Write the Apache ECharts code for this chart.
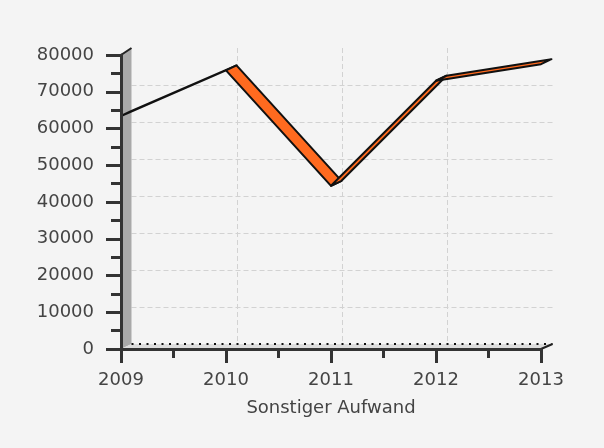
<!DOCTYPE html>
<html>
<head>
<meta charset="utf-8">
<script src="https://cdn.jsdelivr.net/npm/echarts@6/dist/echarts.min.js"></script>
<style>
html, body { margin: 0; padding: 0; background: #f4f4f4; }
#chart { width: 604px; height: 448px; }
</style>
</head>
<body>
<div id="chart"></div>
<script>
const years = [2009, 2010, 2011, 2012, 2013];
const values = [63400, 75800, 44400, 73000, 77500];
const yMin = 0, yMax = 80000, yStep = 10000;
const axisTitle = 'Sonstiger Aufwand';

// front and back planes of the fake 3d box
const front = { left: 121, top: 55, width: 420, height: 294 };
const back = { left: 131.5, top: 48, width: 421, height: 296 };

const textStyle = { color: '#444', fontSize: 18, fontFamily: 'DejaVu Sans' };
const axisColor = '#333';

const chart = echarts.init(document.getElementById('chart'));

const fb = front.top + front.height;
const bb = back.top + back.height;
const fr = front.left + front.width;
const br = back.left + back.width;

// ribbon depth = offset of the floor's back edge
const depth = [back.left - front.left, bb - fb];
const toBack = function (p) {
  return [p[0] + depth[0], p[1] + depth[1]];
};

const segments = years.slice(1).map(function (y, i) {
  return [years[i], values[i], y, values[i + 1]];
});

const option = {
  backgroundColor: '#f4f4f4',
  animation: false,
  grid: [
    { left: front.left, top: front.top, width: front.width, height: front.height },
    { left: back.left, top: back.top, width: back.width, height: back.height }
  ],
  graphic: [
    { type: 'polygon', z: 1, silent: true,
      shape: { points: [[front.left, front.top], [back.left, back.top], [back.left, bb], [front.left, fb]] },
      style: { fill: '#a9a9a9' } },
    { type: 'polygon', z: 1, silent: true,
      shape: { points: [[front.left, fb], [back.left, bb], [br, bb], [fr, fb]] },
      style: { fill: '#dcdcdc' } },
    { type: 'line', z: 2, silent: true,
      shape: { x1: back.left, y1: bb, x2: br, y2: bb },
      style: { stroke: '#111', lineWidth: 2, lineDash: [2, 5.5] } },
    { type: 'line', z: 2, silent: true,
      shape: { x1: front.left, y1: front.top, x2: back.left, y2: back.top },
      style: { stroke: '#222', lineWidth: 2 } },
    { type: 'line', z: 2, silent: true,
      shape: { x1: fr, y1: fb, x2: br, y2: bb },
      style: { stroke: '#222', lineWidth: 2 } }
  ],
  xAxis: [
    {
      gridIndex: 0, type: 'value', min: years[0], max: years[years.length - 1], interval: 1, z: 10,
      axisLine: { show: true, onZero: false, lineStyle: { color: axisColor, width: 3 } },
      axisTick: { show: true, length: 14, lineStyle: { color: axisColor, width: 3 } },
      minorTick: { show: true, splitNumber: 2, length: 9, lineStyle: { color: axisColor, width: 3 } },
      splitLine: { show: false },
      axisLabel: Object.assign({ margin: 22, formatter: function (v) { return String(v); } }, textStyle),
      name: axisTitle, nameLocation: 'middle', nameGap: 50,
      nameTextStyle: textStyle
    },
    {
      gridIndex: 1, type: 'value', min: years[0], max: years[years.length - 1], interval: 1,
      axisLine: { show: false }, axisTick: { show: false }, axisLabel: { show: false },
      splitLine: { show: true, showMinLine: false, showMaxLine: false,
        lineStyle: { color: '#d2d2d2', type: [5, 3] } }
    }
  ],
  yAxis: [
    {
      gridIndex: 0, type: 'value', min: yMin, max: yMax, interval: yStep, z: 10,
      axisLine: { show: true, onZero: false, lineStyle: { color: axisColor, width: 3 } },
      axisTick: { show: true, length: 15, lineStyle: { color: axisColor, width: 3 } },
      minorTick: { show: true, splitNumber: 2, length: 10, lineStyle: { color: axisColor, width: 3 } },
      splitLine: { show: false },
      axisLabel: Object.assign({ margin: 27, formatter: function (v) { return String(v); } }, textStyle)
    },
    {
      gridIndex: 1, type: 'value', min: yMin, max: yMax, interval: yStep,
      axisLine: { show: false }, axisTick: { show: false }, axisLabel: { show: false },
      splitLine: { show: true, showMinLine: false, showMaxLine: false,
        lineStyle: { color: '#d2d2d2', type: [5, 3] } }
    }
  ],
  series: [
    {
      type: 'custom',
      xAxisIndex: 0,
      yAxisIndex: 0,
      z: 5,
      silent: true,
      data: segments,
      encode: { x: [0, 2], y: [1, 3] },
      renderItem: function (params, api) {
        const a = api.coord([api.value(0), api.value(1)]);
        const b = api.coord([api.value(2), api.value(3)]);
        return {
          type: 'polygon',
          shape: { points: [a, b, toBack(b), toBack(a)] },
          style: { fill: '#ff6a1f', stroke: '#111', lineWidth: 2, lineJoin: 'round' }
        };
      }
    }
  ]
};

chart.setOption(option);
</script>
</body>
</html>
